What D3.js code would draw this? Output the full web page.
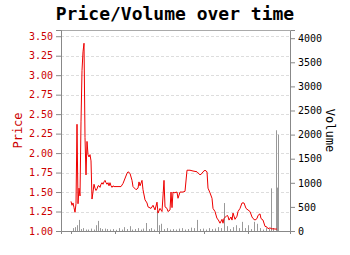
<!DOCTYPE html>
<html>
<head>
<meta charset="utf-8">
<script src="https://cdn.jsdelivr.net/npm/d3@7"></script>
<style>
	body { margin: 0; background: #fff; }
	svg text { font-family: "DejaVu Sans Mono", monospace; }
</style>
</head>
<body>
<div id="chart"></div>
<script>
// day index (from first trade) and closing price
var priceDays = [0,1,2,3,4,5,6,7,8,9,10,11,12,13,14,15,16,17,18,19,20,21,22,23,24,25,26,27,28,29,30,31,32,33,34,35,36,37,38,39,40,41,42,43,
	44,50,52,56,57,59,61,62,65,67,68,69,71,72,74,76,77,80,82,84,86,87,89,91,93,94,96,97,99,100,101,102,
	103,106,107,109,112,114,116,119,122,126,129,131,132,134,136,137,139,141,142,144,146,147,149,151,152,153,156,
	157,158,160,161,162,164,166,167,169,171,173,175,177,179,181,182,184,186,187,189,190,192,194,196,197,199,201,202,204,206];
var price = [1.38,1.33,1.36,1.30,1.24,1.35,2.37,1.35,1.55,1.45,2.40,3.06,3.30,3.41,2.20,1.72,2.15,1.98,1.95,1.98,1.90,1.41,1.50,1.60,1.55,1.52,1.54,1.58,1.58,1.56,1.60,1.62,1.60,1.63,1.65,1.62,1.60,1.62,1.58,1.62,1.58,1.56,1.58,1.57,
	1.57,1.57,1.61,1.74,1.76,1.74,1.65,1.57,1.53,1.55,1.63,1.58,1.65,1.53,1.40,1.36,1.31,1.29,1.33,1.27,1.37,1.23,1.29,1.25,1.65,1.31,1.29,1.25,1.27,1.50,1.30,1.50,
	1.49,1.50,1.42,1.50,1.50,1.51,1.78,1.78,1.77,1.76,1.72,1.74,1.76,1.78,1.76,1.55,1.49,1.42,1.29,1.25,1.16,1.15,1.10,1.15,1.10,1.16,1.20,
	1.19,1.14,1.18,1.14,1.23,1.15,1.19,1.25,1.29,1.36,1.36,1.29,1.27,1.25,1.18,1.16,1.14,1.16,1.20,1.22,1.16,1.14,1.06,1.05,1.03,1.04,1.025,1.03,1.025,1.025];

// traded volume on selected days
var volDays = [2,4,6,8,10,12,15,17,20,23,25,27,29,31,34,36,39,42,45,48,51,53,56,59,61,64,67,70,72,75,78,80,83,86,88,90,93,96,99,
	102,105,108,111,114,117,120,123,126,129,132,135,138,141,144,147,150,153,156,159,162,165,168,171,174,177,180,183,186,189,192,195,198,200,202,205,206,207];
var volume = [60,80,120,230,40,60,30,30,50,30,120,210,60,40,50,40,30,40,25,60,30,80,40,100,30,40,60,30,50,166,40,60,30,420,120,150,40,60,30,
	40,30,50,60,30,40,70,60,230,40,50,30,60,40,50,80,60,580,100,40,80,120,60,190,60,120,40,190,150,60,30,60,40,885,60,2090,900,2000];

var priceTicks = [1.00,1.25,1.50,1.75,2.00,2.25,2.50,2.75,3.00,3.25,3.50];
var volumeTicks = [0,500,1000,1500,2000,2500,3000,3500,4000];
var dayTicks = [0,44,88,133,177];

var W = 350, H = 255;
var margin = {top: 30, right: 60, bottom: 24, left: 61};
var w = W - margin.left - margin.right, h = H - margin.top - margin.bottom;

var svg = d3.select("#chart").append("svg")
	.attr("width", W)
	.attr("height", H);

svg.append("text")
	.attr("x", W / 2)
	.attr("y", 20)
	.attr("text-anchor", "middle")
	.style("font-size", "18px")
	.style("font-weight", "bold")
	.text("Price/Volume over time");

var g = svg.append("g").attr("transform", "translate(" + margin.left + "," + margin.top + ")");

var x = d3.scaleLinear().domain([-10, 219]).range([0, w]);
var yP = d3.scaleLinear().domain([1, 3.58]).range([h, 0]);
var yV = d3.scaleLinear().domain([0, 4170]).range([h, 0]);

// dashed grid
g.selectAll(".grid")
	.data(priceTicks.slice(1))
	.enter()
	.append("line")
	.attr("class", "grid")
	.attr("x1", 0).attr("x2", w)
	.attr("y1", function(d) { return Math.round(yP(d)) + 0.5; })
	.attr("y2", function(d) { return Math.round(yP(d)) + 0.5; })
	.attr("stroke", "#ddd")
	.attr("stroke-dasharray", "3,2");

// top border
g.append("line")
	.attr("x1", 0).attr("x2", w)
	.attr("y1", 0.5).attr("y2", 0.5)
	.attr("stroke", "#aaa");

// volume bars
g.selectAll(".vol")
	.data(volDays.map(function(d, i) { return {day: d, v: volume[i]}; }))
	.enter()
	.append("rect")
	.attr("class", "vol")
	.attr("x", function(d) { return Math.round(x(d.day)); })
	.attr("width", 1)
	.attr("y", function(d) { return yV(d.v); })
	.attr("height", function(d) { return h - yV(d.v); })
	.attr("fill", "#999");

// price line
var line = d3.line()
	.x(function(d) { return x(d[0]); })
	.y(function(d) { return yP(d[1]); });

g.append("path")
	.datum(priceDays.map(function(d, i) { return [d, price[i]]; }))
	.attr("d", line)
	.attr("fill", "none")
	.attr("stroke", "#e00")
	.attr("stroke-width", 1);

// axes
var leftAxis = g.append("g")
	.call(d3.axisLeft(yP).tickValues(priceTicks).tickFormat(d3.format(".2f")).tickSize(5));
leftAxis.selectAll("text").attr("fill", "#c00").style("font-size", "10px");

var rightAxis = g.append("g")
	.attr("transform", "translate(" + w + ",0)")
	.call(d3.axisRight(yV).tickValues(volumeTicks).tickFormat(d3.format("d")).tickSize(5));
rightAxis.selectAll("text").attr("fill", "#000").style("font-size", "10px");

var bottomAxis = g.append("g")
	.attr("transform", "translate(0," + h + ")")
	.call(d3.axisBottom(x).tickValues(dayTicks).tickFormat("").tickSize(3));

[leftAxis, rightAxis, bottomAxis].forEach(function(a) {
	a.select(".domain").attr("stroke", "#888");
	a.selectAll(".tick line").attr("stroke", "#888");
});

svg.append("text")
	.attr("transform", "translate(22," + (margin.top + h / 2) + ") rotate(-90)")
	.attr("text-anchor", "middle")
	.attr("fill", "#c00")
	.style("font-size", "12px")
	.text("Price");

svg.append("text")
	.attr("transform", "translate(326," + (margin.top + h / 2) + ") rotate(90)")
	.attr("text-anchor", "middle")
	.style("font-size", "12px")
	.text("Volume");
</script>
</body>
</html>
